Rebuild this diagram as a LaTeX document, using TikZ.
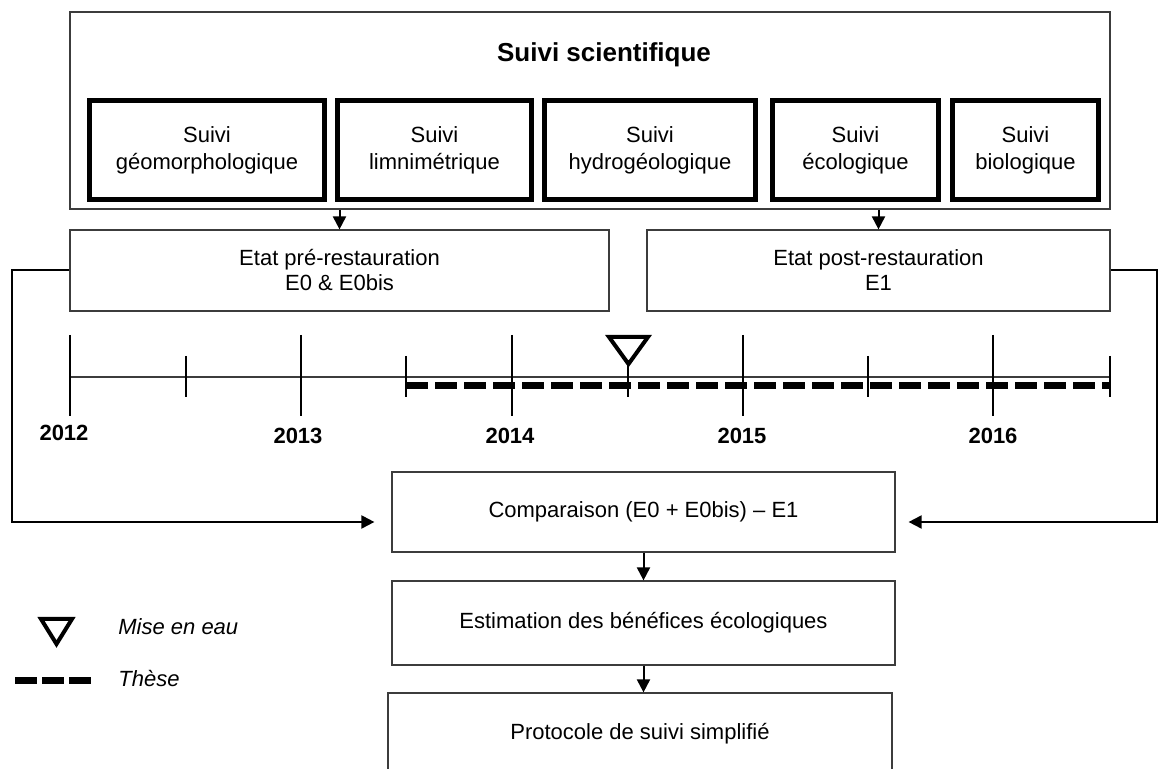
\documentclass[tikz,border=0pt]{standalone}
\usepackage{fontspec}
\setmainfont{Liberation Sans}
\usepackage{xcolor}
\definecolor{cadregris}{RGB}{60,60,60}
\usetikzlibrary{arrows.meta, positioning, calc}

\begin{document}
\begin{tikzpicture}[
    x=0.5pt, y=-0.5pt,
    >={Triangle[length=6.5pt, width=6.5pt]},
    cadre/.style={draw=cadregris, line width=0.6pt, align=center, inner sep=0pt, font=\fontsize{11}{12.5}\selectfont},
    suivi/.style={draw, line width=2.5pt, minimum height=49.5pt, align=center, inner sep=0pt, font=\fontsize{11}{13.5}\selectfont},
    fleche/.style={->, line width=1pt},
    annee/.style={font=\bfseries\fontsize{11}{13}\selectfont},
    these/.style={line width=3.5pt, dash pattern=on 11pt off 3.5pt},
    repere/.style={draw, fill=white, line width=2pt},
    legende/.style={anchor=west, inner sep=0pt, font=\itshape\fontsize{11}{13}\selectfont}
]

\useasboundingbox (0,0) rectangle (1158,769);

% Suivi scientifique
\node[cadre, minimum width=520pt, minimum height=98.5pt] (scien) at (590,110.5) {};
\node[font=\bfseries\fontsize{13}{15}\selectfont] (titre) at (604,55) {Suivi scientifique};

\node[suivi, minimum width=117.5pt] (geomorph) at (207,150) {Suivi\\géomorphologique};
\node[suivi, minimum width=97pt] (limni) at (434.5,150) {Suivi\\limnimétrique};
\node[suivi, minimum width=105.5pt] (hydro) at (650,150) {Suivi\\hydrogéologique};
\node[suivi, minimum width=83pt] (ecolo) at (855.5,150) {Suivi\\écologique};
\node[suivi, minimum width=73pt] (biolo) at (1025.5,150) {Suivi\\biologique};

% Etats avant / apres
\node[cadre, minimum width=269.5pt, minimum height=40.5pt] (pre) at (339.5,270.5) {Etat pré-restauration\\E0 \& E0bis};
\node[cadre, minimum width=231.5pt, minimum height=40.5pt] (post) at (878.5,270.5) {Etat post-restauration\\E1};

\draw[fleche] (scien.south -| pre.north) -- (pre.north);
\draw[fleche] (scien.south -| post.north) -- (post.north);

% Frise chronologique
\draw[line width=0.6pt, cadregris] (70,377) -- (1110,377);
\draw[these] (406,386) -- (1110,386);
\draw[line width=1.1pt] (70,335) -- (70,416) (301,335) -- (301,416) (512,335) -- (512,416)
    (743,335) -- (743,416) (993,335) -- (993,416);
\draw[line width=0.6pt] (186,356) -- (186,397) (406,356) -- (406,397) (628,356) -- (628,397)
    (868,356) -- (868,397) (1110,356) -- (1110,397);

% Mise en eau
\draw[repere] (609,337) -- (648,337) -- (628.5,364) -- cycle;

\node[annee] (a2012) at (64,433) {2012};
\node[annee] (a2013) at (298,436) {2013};
\node[annee] (a2014) at (510,436) {2014};
\node[annee] (a2015) at (742,436) {2015};
\node[annee] (a2016) at (993,436) {2016};

% Exploitation des resultats
\node[cadre, minimum width=251.5pt, minimum height=40pt] (comp) at (643.5,512) {Comparaison (E0 + E0bis) -- E1};
\node[cadre, minimum width=251.5pt, minimum height=42pt] (estim) at (643.5,623) {Estimation des bénéfices écologiques};
\node[cadre, minimum width=252pt, minimum height=41pt] (proto) at (640,734) {Protocole de suivi simplifié};

\draw[fleche] (comp.south) -- (comp.south |- estim.north);
\draw[fleche] (estim.south) -- (estim.south |- proto.north);

\coordinate (coingauche) at (12,522);
\coordinate (coindroit) at (1157,522);
\draw[fleche, shorten >=8.5pt] (pre.west) -| (coingauche) -- (coingauche -| comp.west);
\draw[fleche, shorten >=6.5pt] (post.east) -| (coindroit) -- (coindroit -| comp.east);

% Legende
\draw[repere] (41,619) -- (72,619) -- (56.5,644) -- cycle;
\node[legende] (miseeau) at (118,627) {Mise en eau};
\draw[line width=3.5pt, dash pattern=on 11pt off 2.5pt] (15,681) -- (92,681);
\node[legende] (lthese) at (118,679) {Thèse};

\end{tikzpicture}
\end{document}
